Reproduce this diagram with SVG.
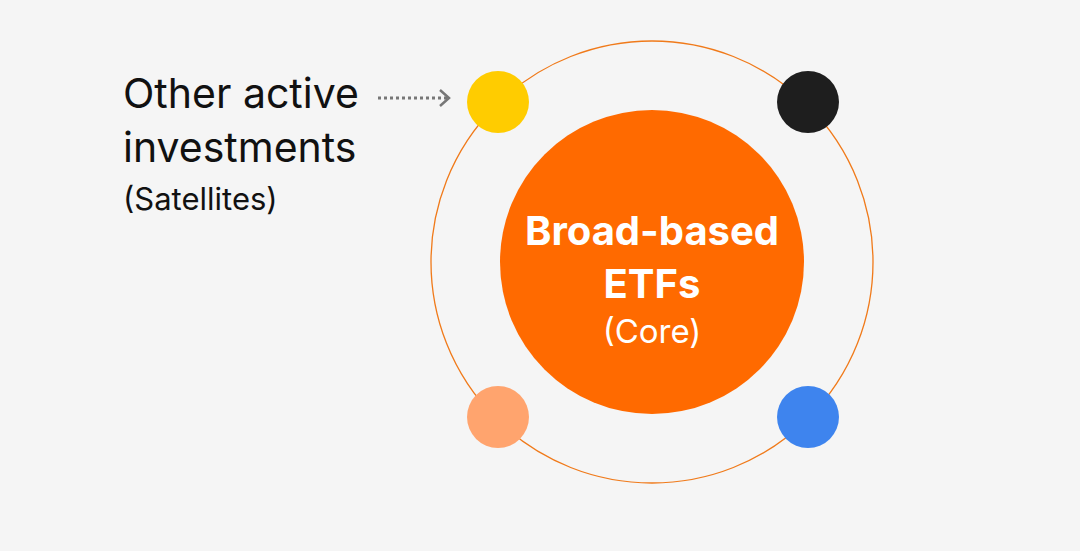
<svg xmlns="http://www.w3.org/2000/svg" width="1080" height="551" viewBox="0 0 1080 551">
<style>
.t{font-family:"Inter","Liberation Sans",sans-serif;fill:#111}
.c{font-family:"Inter","Liberation Sans",sans-serif;fill:#fff;text-anchor:middle}
</style>
<defs><marker id="ah" markerWidth="14" markerHeight="20" refX="11" refY="10" orient="auto" markerUnits="userSpaceOnUse"><path d="M2,2 L11,10 L2,18" fill="none" stroke="#777" stroke-width="2.5"/></marker></defs>
<rect width="1080" height="551" fill="#f5f5f5"/>
<g id="orbit"><circle cx="652" cy="262" r="221" fill="none" stroke="#f07a1a" stroke-width="1.3"/></g>
<g id="core"><circle cx="652" cy="262" r="152" fill="#ff6a00"/>
<text class="c" x="652" y="245" font-size="40" font-weight="700">Broad-based</text>
<text class="c" x="652" y="298" font-size="40" font-weight="700">ETFs</text>
<text class="c" x="652" y="343" font-size="33">(Core)</text></g>
<g id="sat1"><circle cx="498" cy="102" r="31" fill="#ffcc00"/></g>
<g id="sat2"><circle cx="808" cy="102" r="31" fill="#1e1e1e"/></g>
<g id="sat3"><circle cx="498" cy="417" r="31" fill="#ffa46e"/></g>
<g id="sat4"><circle cx="808" cy="417" r="31" fill="#3e84ee"/></g>
<g id="label"><text class="t" x="123" y="108" font-size="41">Other active</text>
<text class="t" x="123" y="162" font-size="41">investments</text>
<text class="t" x="123" y="210" font-size="31">(Satellites)</text></g>
<g id="connectors"><line x1="378" y1="98" x2="449" y2="98" stroke="#777" stroke-width="2.8" stroke-dasharray="3,3" marker-end="url(#ah)"/></g>
</svg>
